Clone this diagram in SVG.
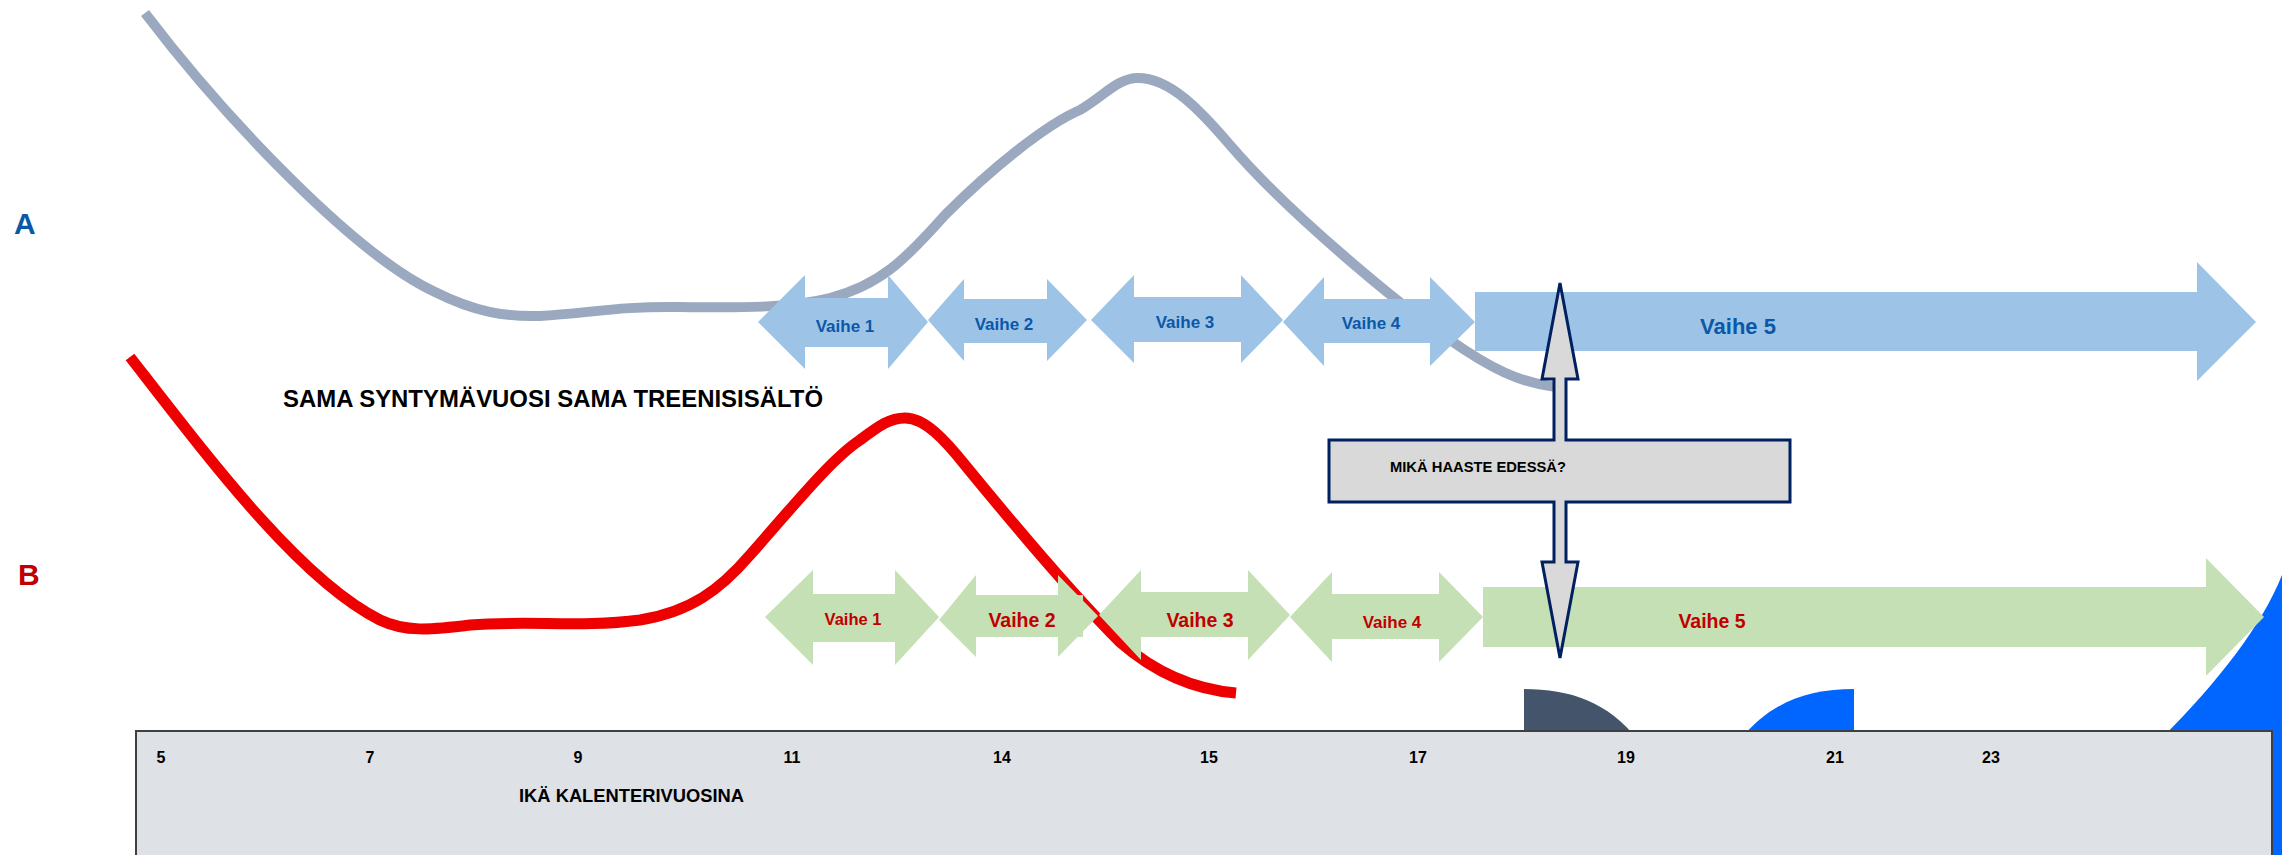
<svg xmlns="http://www.w3.org/2000/svg" width="2282" height="855" viewBox="0 0 2282 855">
<style>
.t{font-family:"Liberation Sans",Arial,sans-serif;font-weight:bold}
.blue{fill:#9DC3E6}
.green{fill:#C5E0B4}
.bt{fill:#0A58A8;text-anchor:middle}
.rt{fill:#C00000;text-anchor:middle}
.num{font-size:16px;fill:#000;text-anchor:middle}
.curve{fill:none;stroke-linecap:butt;stroke-linejoin:round}
</style>
<rect x="0" y="0" width="2282" height="855" fill="#fff"/>
<g id="connectors">
<path class="curve" stroke="#9AA9BF" stroke-width="10" d="M145,13 C225,118 355,255 435,292 C475,312 505,317 540,316 C590,313 620,306 680,307 C740,308 790,308 830,298 C880,285 905,260 945,215 C990,170 1045,125 1080,110 C1105,95 1118,78 1138,78 C1170,78 1200,110 1230,145 C1290,215 1400,305 1450,340 C1490,368 1520,383 1556,387"/>
<path class="curve" stroke="#EE0000" stroke-width="11" d="M130,357 C210,460 300,580 380,620 C405,632 430,630 470,625 C530,620 580,628 640,620 C690,612 720,590 750,555 C790,510 830,460 860,440 C880,425 890,418 905,418 C925,418 945,440 965,465 C1010,520 1070,592 1120,642 C1160,677 1200,690 1236,693"/>
</g>
<g id="deco-blue-large"><path fill="#0066FF" d="M2282,575 C2262,625 2220,680 2160,740 L2160,855 L2282,855 Z"/></g>
<g id="A-vaihe1"><polygon class="blue" points="758,322 805,275 805,298 888,298 888,275 928,322 888,369 888,347 805,347 805,369"/><text class="t bt" x="845" y="332" font-size="17">Vaihe 1</text></g>
<g id="A-vaihe2"><polygon class="blue" points="928,320 964,279 964,299 1047,299 1047,279 1087,320 1047,361 1047,343 964,343 964,361"/><text class="t bt" x="1004" y="330" font-size="17">Vaihe 2</text></g>
<g id="A-vaihe3"><polygon class="blue" points="1091,320 1134,275 1134,297 1241,297 1241,275 1283,320 1241,363 1241,342 1134,342 1134,363"/><text class="t bt" x="1185" y="328" font-size="17">Vaihe 3</text></g>
<g id="A-vaihe4"><polygon class="blue" points="1283,322 1324,277 1324,299 1430,299 1430,277 1475,322 1430,366 1430,343 1324,343 1324,366"/><text class="t bt" x="1371" y="329" font-size="17">Vaihe 4</text></g>
<g id="A-vaihe5"><polygon class="blue" points="1475,292 2197,292 2197,262 2256,322 2197,381 2197,351 1475,351"/><text class="t bt" x="1738" y="334" font-size="22">Vaihe 5</text></g>
<g id="B-vaihe1"><polygon class="green" points="765,617 813,570 813,594 895,594 895,570 939,617 895,665 895,642 813,642 813,665"/><text class="t rt" x="853" y="625" font-size="16.5">Vaihe 1</text></g>
<g id="B-vaihe2"><polygon class="green" points="939,620 976,575 976,595 1058,595 1058,575 1098,616 1058,657 1058,637 976,637 976,657"/><rect class="green" x="1058" y="595" width="25" height="42"/><text class="t rt" x="1022" y="627" font-size="19.5">Vaihe 2</text></g>
<g id="B-vaihe3"><polygon class="green" points="1099,615 1141,570 1141,592 1248,592 1248,570 1290,615 1248,660 1248,637 1141,637 1141,660"/><text class="t rt" x="1200" y="627" font-size="19.5">Vaihe 3</text></g>
<g id="B-vaihe4"><polygon class="green" points="1290,617 1332,572 1332,594 1439,594 1439,572 1483,617 1439,662 1439,639 1332,639 1332,662"/><text class="t rt" x="1392" y="628" font-size="17">Vaihe 4</text></g>
<g id="B-vaihe5"><polygon class="green" points="1483,587 2206,587 2206,558 2264,617 2206,676 2206,647 1483,647"/><text class="t rt" x="1712" y="628" font-size="19.5">Vaihe 5</text></g>
<g id="callout"><path fill="#D9D9D9" stroke="#002060" stroke-width="3" stroke-linejoin="miter" d="M1560,283 L1578,379 L1566,379 L1566,440 L1790,440 L1790,502 L1566,502 L1566,562 L1578,562 L1560,658 L1542,562 L1554,562 L1554,502 L1329,502 L1329,440 L1554,440 L1554,379 L1542,379 Z"/><text class="t" x="1390" y="472" font-size="15" fill="#000" textLength="176" lengthAdjust="spacingAndGlyphs">MIKÄ HAASTE EDESSÄ?</text></g>
<g id="deco-slate"><path fill="#44546A" d="M1524,740 L1524,689 C1570,689 1608,702 1638,740 Z"/></g>
<g id="deco-blue-small"><path fill="#0066FF" d="M1854,740 L1854,689 C1808,689 1770,702 1740,740 Z"/></g>
<g id="axis"><rect x="136" y="731" width="2136" height="140" fill="#DEE1E6" stroke="#404040" stroke-width="2"/>
<text class="t num" x="161" y="763">5</text><text class="t num" x="370" y="763">7</text><text class="t num" x="578" y="763">9</text><text class="t num" x="792" y="763">11</text><text class="t num" x="1002" y="763">14</text><text class="t num" x="1209" y="763">15</text><text class="t num" x="1418" y="763">17</text><text class="t num" x="1626" y="763">19</text><text class="t num" x="1835" y="763">21</text><text class="t num" x="1991" y="763">23</text>
<text class="t" x="519" y="802" font-size="18" fill="#000" textLength="225" lengthAdjust="spacingAndGlyphs">IKÄ KALENTERIVUOSINA</text></g>
<g id="label-A"><text class="t" x="14" y="234" font-size="30" fill="#0A58A8">A</text></g>
<g id="label-B"><text class="t" x="18" y="585" font-size="30" fill="#C00000">B</text></g>
<g id="title"><text class="t" x="283" y="407" font-size="23.5" fill="#000" textLength="540" lengthAdjust="spacingAndGlyphs">SAMA SYNTYMÄVUOSI SAMA TREENISISÄLTÖ</text></g>
</svg>
